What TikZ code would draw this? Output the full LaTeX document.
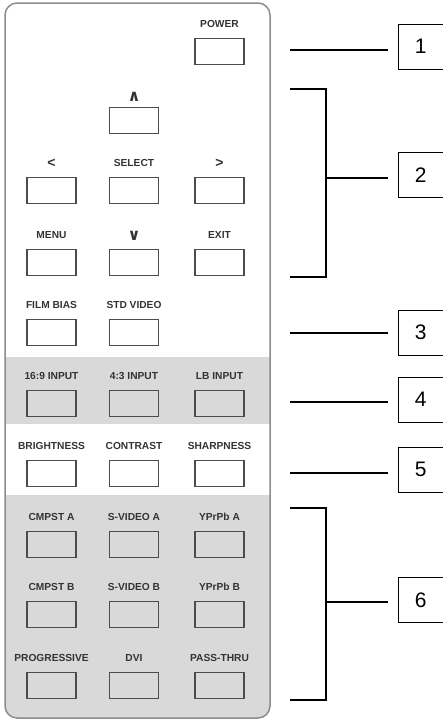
\documentclass[tikz,border=0pt]{standalone}
\usepackage{fontspec}
\setmainfont{Liberation Sans}
\newfontfamily\symfont{DejaVu Sans}
\begin{document}
\begin{tikzpicture}[x=1pt,y=-1pt,
  btn/.style={draw=black!70, line width=1.1pt, minimum width=49pt, minimum height=25.5pt, inner sep=0pt, anchor=north},
  lbl/.style={font=\bfseries\fontsize{10.2}{10}\selectfont, text=black!80, inner sep=0pt},
  callbox/.style={draw, line width=0.8pt, minimum width=44.5pt, minimum height=45pt, inner sep=0pt, font=\fontsize{21}{21}\selectfont, anchor=west},
  lead/.style={line width=1.6pt, line cap=butt}]
\useasboundingbox (0,0) rectangle (442,720);
% remote body
\begin{scope}
  \clip[rounded corners=12pt] (5,3) rectangle (270,718);
  \fill[black!15] (0,357) rectangle (280,424);
  \fill[black!15] (0,495) rectangle (280,722);
\end{scope}
\draw[black!45, line width=1.5pt, rounded corners=12pt] (5,3) rectangle (270,718);
% buttons
\foreach \n/\x/\y/\t in {
  power/219.5/38/POWER,
  left/51.5/177/{\fontsize{14}{14}\selectfont <}, select/134/177/SELECT, right/219.5/177/{\fontsize{14}{14}\selectfont >},
  menu/51.5/249/MENU, exit/219.5/249/EXIT,
  film/51.5/319/FILM BIAS, std/134/319/STD VIDEO,
  wide/51.5/390/{16:9 INPUT}, four/134/390/{4:3 INPUT}, lb/219.5/390/LB INPUT,
  bright/51.5/460/BRIGHTNESS, contrast/134/460/CONTRAST, sharp/219.5/460/SHARPNESS,
  cmpa/51.5/531/CMPST A, sva/134/531/S-VIDEO A, ypa/219.5/531/YPrPb A,
  cmpb/51.5/601/CMPST B, svb/134/601/S-VIDEO B, ypb/219.5/601/YPrPb B,
  prog/51.5/672/PROGRESSIVE, dvi/134/672/DVI, pass/219.5/672/PASS-THRU}
{
  \node[btn] (\n) at (\x,\y) {};
  \node[lbl] (\n-l) at (\x,\y-14) {\t};
}
\node[btn] (up) at (134,107) {};
\node[lbl] (up-l) at (134,97) {\symfont\fontsize{16}{16}\selectfont ∧};
\node[btn] (down) at (134,249) {};
\node[lbl] (down-l) at (134,235.5) {\symfont\fontsize{16}{16}\selectfont ∨};
% callout boxes
\node[callbox] (c1) at (398,46.5) {1};
\node[callbox] (c2) at (398,175) {2};
\node[callbox] (c3) at (398,332.5) {3};
\node[callbox] (c4) at (398,399.5) {4};
\node[callbox] (c5) at (398,469.5) {5};
\node[callbox] (c6) at (398,600) {6};
% leader lines
\coordinate (a1) at (290,50);   \coordinate (b1) at (388,50);
\coordinate (a3) at (290,333);  \coordinate (b3) at (388,333);
\coordinate (a4) at (290,402);  \coordinate (b4) at (388,402);
\coordinate (a5) at (290,473);  \coordinate (b5) at (388,473);
\draw[lead] (a1) -- (b1);
\draw[lead] (a3) -- (b3);
\draw[lead] (a4) -- (b4);
\draw[lead] (a5) -- (b5);
% brackets
\coordinate (t2) at (290,89);  \coordinate (u2) at (290,277);
\coordinate (m2) at (326,178); \coordinate (b2) at (388,178);
\draw[lead] (t2) -- (326,89) -- (326,277) -- (u2);
\draw[lead] (m2) -- (b2);
\coordinate (t6) at (290,508); \coordinate (u6) at (290,700);
\coordinate (m6) at (326,602); \coordinate (b6) at (388,602);
\draw[lead] (t6) -- (326,508) -- (326,700) -- (u6);
\draw[lead] (m6) -- (b6);
\end{tikzpicture}
\end{document}
